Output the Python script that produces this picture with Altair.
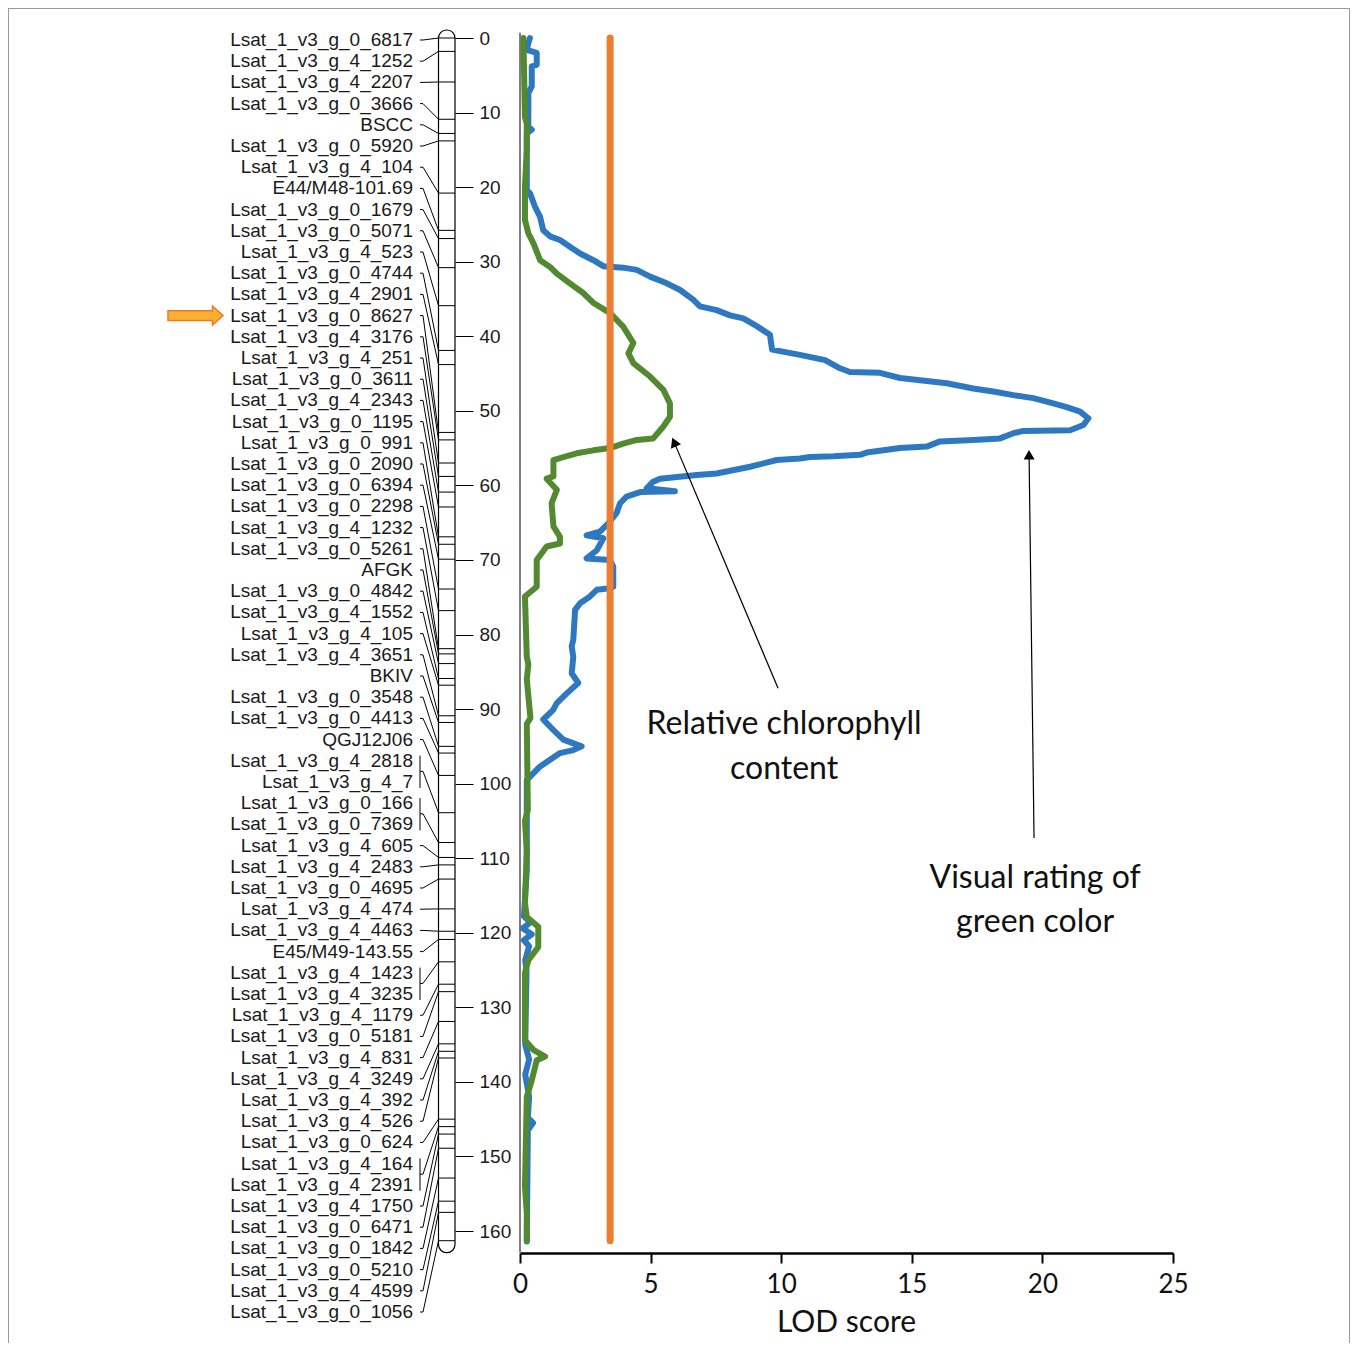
import math
import altair as alt
import numpy as np
import pandas as pd

# ---------------- data ----------------
MARKERS = [
    "Lsat_1_v3_g_0_6817", "Lsat_1_v3_g_4_1252", "Lsat_1_v3_g_4_2207", "Lsat_1_v3_g_0_3666",
    "BSCC", "Lsat_1_v3_g_0_5920", "Lsat_1_v3_g_4_104", "E44/M48-101.69",
    "Lsat_1_v3_g_0_1679", "Lsat_1_v3_g_0_5071", "Lsat_1_v3_g_4_523", "Lsat_1_v3_g_0_4744",
    "Lsat_1_v3_g_4_2901", "Lsat_1_v3_g_0_8627", "Lsat_1_v3_g_4_3176", "Lsat_1_v3_g_4_251",
    "Lsat_1_v3_g_0_3611", "Lsat_1_v3_g_4_2343", "Lsat_1_v3_g_0_1195", "Lsat_1_v3_g_0_991",
    "Lsat_1_v3_g_0_2090", "Lsat_1_v3_g_0_6394", "Lsat_1_v3_g_0_2298", "Lsat_1_v3_g_4_1232",
    "Lsat_1_v3_g_0_5261", "AFGK", "Lsat_1_v3_g_0_4842", "Lsat_1_v3_g_4_1552",
    "Lsat_1_v3_g_4_105", "Lsat_1_v3_g_4_3651", "BKIV", "Lsat_1_v3_g_0_3548",
    "Lsat_1_v3_g_0_4413", "QGJ12J06", "Lsat_1_v3_g_4_2818", "Lsat_1_v3_g_4_7",
    "Lsat_1_v3_g_0_166", "Lsat_1_v3_g_0_7369", "Lsat_1_v3_g_4_605", "Lsat_1_v3_g_4_2483",
    "Lsat_1_v3_g_0_4695", "Lsat_1_v3_g_4_474", "Lsat_1_v3_g_4_4463", "E45/M49-143.55",
    "Lsat_1_v3_g_4_1423", "Lsat_1_v3_g_4_3235", "Lsat_1_v3_g_4_1179", "Lsat_1_v3_g_0_5181",
    "Lsat_1_v3_g_4_831", "Lsat_1_v3_g_4_3249", "Lsat_1_v3_g_4_392", "Lsat_1_v3_g_4_526",
    "Lsat_1_v3_g_0_624", "Lsat_1_v3_g_4_164", "Lsat_1_v3_g_4_2391", "Lsat_1_v3_g_4_1750",
    "Lsat_1_v3_g_0_6471", "Lsat_1_v3_g_0_1842", "Lsat_1_v3_g_0_5210", "Lsat_1_v3_g_4_4599",
    "Lsat_1_v3_g_0_1056",
]
MARKER_CM = [
    0.0, 1.8, 5.9, 10.9, 12.8, 13.8, 20.8, 25.8, 26.9, 30.8, 35.9,
    41.9, 43.8, 52.9, 53.9, 57.0, 58.8, 60.9, 62.9, 66.9, 67.9, 69.9,
    73.9, 76.8, 81.9, 82.6, 83.9, 85.9, 86.8, 90.9, 91.8, 95.0, 95.9, 98.9,
    103.9, 103.9, 107.9, 107.9, 109.9, 110.9, 112.8, 116.8, 119.8, 120.9,
    123.9, 123.9, 126.9, 127.9, 131.9, 134.9, 135.9, 136.8,
    145.0, 146.0, 146.0, 147.0, 148.9, 152.9, 156.0, 157.5, 161.3,
]
HIGHLIGHT = "Lsat_1_v3_g_0_8627"
CM_TICKS = list(range(0, 161, 10))
LOD_TICKS = [0, 5, 10, 15, 20, 25]

BLUE_CM = [
    0.0, 0.7, 1.6, 2.0, 3.6, 3.8, 6.5, 7.4, 11.9, 12.3,
    12.8, 20.4, 20.8, 22.6, 24.0, 25.8, 26.6, 27.1, 28.0, 28.9,
    29.8, 30.6, 30.8, 31.1, 32.0, 32.9, 33.8, 35.1, 36.0, 36.5,
    37.2, 37.6, 38.5, 39.8, 41.8, 42.5, 43.2, 44.3, 44.8, 44.9,
    45.6, 46.3, 47.0, 47.4, 47.9, 48.3, 49.0, 49.5, 50.1, 51.0,
    51.9, 52.6, 52.7, 53.0, 53.7, 53.9, 54.1, 54.8, 55.0, 55.6,
    55.9, 56.1, 56.2, 56.4, 56.6, 57.5, 58.4, 58.6, 59.1, 59.5,
    60.4, 60.8, 60.9, 61.5, 62.4, 63.7, 65.1, 66.2, 66.7, 67.1,
    68.7, 69.8, 70.0, 70.9, 73.6, 73.8, 74.0, 74.9, 75.8, 76.7,
    80.7, 81.6, 83.0, 85.2, 86.5, 87.9, 89.2, 90.1, 91.4, 92.8,
    94.1, 95.0, 95.5, 95.9, 96.8, 97.7, 99.3, 99.5, 111.6, 117.8,
    118.6, 119.4, 120.2, 121.0, 121.8, 123.7, 125.0, 135.0, 137.0, 139.0,
    142.0, 144.8, 145.5, 146.5, 161.4,
]
BLUE_LOD = [
    0.38, 0.32, 0.26, 0.64, 0.64, 0.45, 0.45, 0.32, 0.32, 0.45,
    0.26, 0.26, 0.38, 0.57, 0.77, 0.89, 1.15, 1.53, 1.91, 2.30,
    2.81, 3.19, 3.95, 4.47, 4.98, 5.62, 6.13, 6.63, 6.89, 7.53,
    8.04, 8.55, 9.00, 9.57, 9.65, 10.72, 11.68, 12.25, 12.63, 13.78,
    14.55, 16.34, 17.35, 18.12, 18.89, 19.65, 20.42, 20.93, 21.44, 21.76,
    21.57, 21.06, 19.27, 18.89, 18.38, 17.35, 16.08, 15.57, 14.55, 13.27,
    13.02, 12.00, 11.10, 10.72, 9.83, 8.81, 7.53, 6.77, 5.36, 5.10,
    4.85, 5.93, 4.60, 4.08, 3.83, 3.70, 3.38, 3.06, 2.55, 3.19,
    2.94, 2.55, 3.45, 3.57, 3.57, 3.45, 2.94, 2.68, 2.30, 2.11,
    2.04, 1.98, 2.04, 1.98, 2.23, 1.79, 1.41, 1.27, 0.89, 1.27,
    1.66, 2.36, 2.04, 1.53, 1.15, 0.77, 0.32, 0.26, 0.26, 0.15,
    0.40, 0.10, 0.45, 0.15, 0.35, 0.20, 0.25, 0.20, 0.35, 0.20,
    0.35, 0.30, 0.50, 0.30, 0.26,
]
GREEN_CM = [
    0.0, 10.6, 11.5, 15.0, 19.9, 24.4, 26.2, 27.5, 29.8, 30.7,
    31.6, 32.9, 34.2, 35.5, 36.9, 38.7, 40.9, 42.3, 43.6, 45.4,
    47.2, 49.0, 50.8, 52.1, 53.7, 53.9, 54.4, 55.0, 55.3, 55.7,
    56.2, 56.6, 58.8, 59.1, 60.6, 62.4, 65.5, 66.9, 67.8, 68.2,
    70.0, 73.6, 74.9, 83.0, 84.0, 86.0, 91.2, 92.0, 103.5, 105.0,
    109.0, 116.0, 117.9, 119.2, 121.9, 123.7, 125.4, 134.4, 135.7, 136.6,
    137.1, 139.8, 142.0, 154.0, 157.6, 161.3,
]
GREEN_LOD = [
    0.13, 0.19, 0.26, 0.26, 0.19, 0.19, 0.32, 0.51, 0.77, 1.15,
    1.41, 1.91, 2.42, 2.80, 3.45, 3.95, 4.34, 4.15, 4.34, 4.98,
    5.49, 5.74, 5.74, 5.49, 5.10, 4.47, 3.95, 3.45, 2.81, 2.17,
    1.66, 1.28, 1.28, 1.02, 1.41, 1.21, 1.28, 1.53, 1.53, 1.02,
    0.64, 0.64, 0.19, 0.26, 0.32, 0.26, 0.40, 0.26, 0.30, 0.19,
    0.26, 0.19, 0.26, 0.70, 0.70, 0.32, 0.19, 0.19, 0.51, 0.96,
    0.64, 0.45, 0.26, 0.19, 0.26, 0.26,
]
THRESHOLD = 3.45
CURVE_START_CM = 0.0
CURVE_END_CM = 161.3

# annotation arrows: tail (lod, cM) -> head (lod, cM)
ARROW_TAIL_LOD = [9.88, 19.68]
ARROW_TAIL_CM = [87.2, 107.3]
ARROW_HEAD_LOD = [5.90, 19.49]
ARROW_HEAD_CM = [54.2, 55.9]
NOTE_TEXT = ["Relative chlorophyll", "content", "Visual rating of", "green color"]
NOTE_LOD = [10.11, 10.11, 19.72, 19.72]
NOTE_CM = [92.0, 98.0, 112.7, 118.6]
AXIS_TITLE = "LOD score"

# ---------------- layout ----------------
W, H = 1342, 1335
PX_PER_CM = 7.45625
Y0 = 30.0                      # plot pixel of 0 cM
X_LOD0, X_LOD25 = 512, 1165     # plot pixels of LOD 0 and 25
PX_PER_LOD = (X_LOD25 - X_LOD0) / 25
LABEL_TOP = 2.0 / PX_PER_CM
LABEL_STEP = 21.2 / PX_PER_CM
BAR_L, BAR_R = 430.5, 447.0
BLUE = "#2E78C2"
GREEN = "#538A31"
ORANGE = "#ED7D31"

yscale = alt.Scale(domain=[-Y0 / PX_PER_CM, (H - Y0) / PX_PER_CM], reverse=True, nice=False, zero=False)
xscale = alt.Scale(domain=[0, 25], range=[X_LOD0, X_LOD25], nice=False, zero=False)

yaxis = alt.Axis(
    orient="right", offset=-(W - BAR_R), values=CM_TICKS, domain=False, grid=False,
    tickSize=18, tickColor="black", tickWidth=1, labelPadding=6,
    labelFont="Liberation Sans", labelFontSize=19, labelColor="#1a1a1a",
    labelAlign="left", labelBaseline="middle", title=None,
)
xaxis = alt.Axis(
    orient="bottom", offset=-(H - 1245), values=LOD_TICKS, grid=False,
    domainColor="black", domainWidth=2.5, tickColor="black", tickWidth=2, tickSize=10,
    labelFont="Lato", labelFontSize=26, labelColor="#111111", labelPadding=8,
    labelFlush=False, title=None,
)


def Y(field):
    return alt.Y(field, type="quantitative", scale=yscale, axis=yaxis)


def X(field):
    return alt.X(field, type="quantitative", scale=xscale, axis=xaxis)


# map tables
mk = pd.DataFrame({"name": MARKERS, "pos": MARKER_CM})
mk["label"] = LABEL_TOP + np.arange(len(mk)) * LABEL_STEP
grp = (
    mk.groupby("pos", sort=False)
    .agg(mid=("label", "mean"), lo=("label", "min"), hi=("label", "max"), n=("name", "size"))
    .reset_index()
)
grp["btop"] = grp["lo"] - 0.7
grp["bbot"] = grp["hi"] + 0.8
brackets = grp[grp["n"] > 1]
bar = pd.DataFrame({"top": [-1.07], "bot": [162.9]})

rule_style = dict(color="black", strokeWidth=1)

labels = alt.Chart(mk).mark_text(
    align="right", baseline="middle", font="Liberation Sans", fontSize=19, color="#1a1a1a"
).encode(x=alt.value(405), y=Y("label"), text="name:N")

hooks = alt.Chart(grp).mark_rule(**rule_style).encode(
    x=alt.value(412), x2=alt.value(415), y=Y("mid"), y2="mid:Q"
)
diags = alt.Chart(grp).mark_rule(**rule_style).encode(
    x=alt.value(415), x2=alt.value(BAR_L), y=Y("mid"), y2="pos:Q"
)
brk = alt.Chart(brackets).mark_rule(**rule_style).encode(
    x=alt.value(412), y=Y("btop"), y2="bbot:Q"
)
chrom = alt.Chart(bar).mark_rect(
    fill="white", stroke="black", strokeWidth=1.2, cornerRadius=8
).encode(x=alt.value(BAR_L), x2=alt.value(BAR_R), y=Y("top"), y2="bot:Q")
ticks = alt.Chart(grp).mark_rule(**rule_style).encode(
    x=alt.value(BAR_L), x2=alt.value(BAR_R), y=Y("pos")
)

ARROW_PATH = "M -1 -0.18 L 0.62 -0.18 L 0.62 -0.34 L 1 0 L 0.62 0.34 L 0.62 0.18 L -1 0.18 Z"
pointer = alt.Chart(mk[mk["name"] == HIGHLIGHT]).mark_point(
    shape=ARROW_PATH, filled=True, fill="#FBB034", stroke="#EE7B22", strokeWidth=1.5,
    size=55 * 55, opacity=1,
).encode(x=alt.value(187.5), y=Y("label"))

# LOD plot
zero_line = alt.Chart(pd.DataFrame({"x": [0.0], "a": [-0.7], "b": [162.9]})).mark_rule(
    color="#555555", strokeWidth=1.5
).encode(x=X("x"), y=Y("a"), y2="b:Q")

blue_df = pd.DataFrame({"cm": BLUE_CM, "lod": BLUE_LOD})
blue_df["i"] = np.arange(len(blue_df))
green_df = pd.DataFrame({"cm": GREEN_CM, "lod": GREEN_LOD})
green_df["i"] = np.arange(len(green_df))

blue = alt.Chart(blue_df).mark_line(
    color=BLUE, strokeWidth=6, strokeJoin="round", strokeCap="round"
).encode(x=X("lod"), y=Y("cm"), order="i:Q")
green = alt.Chart(green_df).mark_line(
    color=GREEN, strokeWidth=6, strokeJoin="round", strokeCap="round"
).encode(x=X("lod"), y=Y("cm"), order="i:Q")

thr = alt.Chart(pd.DataFrame({"x": [THRESHOLD], "a": [CURVE_START_CM], "b": [CURVE_END_CM]})).mark_rule(
    color=ORANGE, strokeWidth=7, strokeCap="round"
).encode(x=X("x"), y=Y("a"), y2="b:Q")

arr = pd.DataFrame({"tx": ARROW_TAIL_LOD, "ty": ARROW_TAIL_CM, "hx": ARROW_HEAD_LOD, "hy": ARROW_HEAD_CM})
arr["ang"] = [
    math.degrees(math.atan2((hx - tx) * PX_PER_LOD, -(hy - ty) * PX_PER_CM)) % 360
    for tx, ty, hx, hy in zip(arr.tx, arr.ty, arr.hx, arr.hy)
]
arrow_lines = alt.Chart(arr).mark_rule(color="black", strokeWidth=1.2).encode(
    x=X("tx"), x2="hx:Q", y=Y("ty"), y2="hy:Q"
)
arrow_heads = alt.Chart(arr).mark_point(
    shape="triangle-up", filled=True, color="black", size=120, opacity=1
).encode(x=X("hx"), y=Y("hy"), angle=alt.Angle("ang:Q", scale=None))

notes = alt.Chart(pd.DataFrame({"t": NOTE_TEXT, "x": NOTE_LOD, "y": NOTE_CM})).mark_text(
    font="Lato", fontSize=32, color="#111111", align="center", baseline="middle"
).encode(x=X("x"), y=Y("y"), text="t:N")

xtitle = alt.Chart(pd.DataFrame({"t": [AXIS_TITLE], "x": [12.5], "y": [172.4]})).mark_text(
    font="Lato", fontSize=30, color="#111111", align="center", baseline="middle"
).encode(x=X("x"), y=Y("y"), text="t:N")

# frame (left, top, right)
one = pd.DataFrame({"k": [0]})
frame_l = alt.Chart(one).mark_rule(color="#9a9a9a", strokeWidth=1).encode(
    x=alt.value(0.5), y=alt.value(0), y2=alt.value(H))
frame_t = alt.Chart(one).mark_rule(color="#9a9a9a", strokeWidth=1).encode(
    x=alt.value(0), x2=alt.value(W), y=alt.value(0.5))
frame_r = alt.Chart(one).mark_rule(color="#9a9a9a", strokeWidth=1).encode(
    x=alt.value(W - 0.5), y=alt.value(0), y2=alt.value(H))

chart = alt.layer(
    frame_l, frame_t, frame_r,
    labels, hooks, diags, brk, chrom, ticks, pointer,
    zero_line, blue, green, thr, arrow_lines, arrow_heads, notes, xtitle,
).properties(
    width=W, height=H, padding=0, autosize=alt.AutoSizeParams(type="none"), background="white"
).configure_view(stroke=None)

chart.save("out.html", embed_options={"renderer": "svg", "actions": False})
